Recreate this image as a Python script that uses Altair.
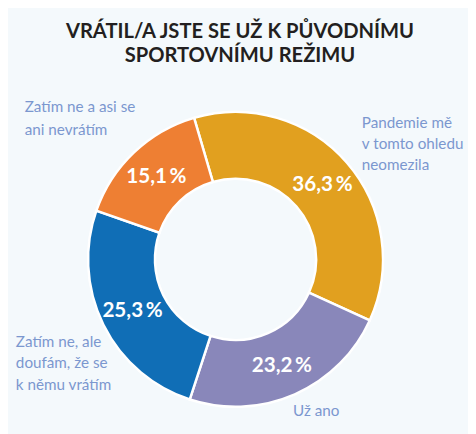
import math
import altair as alt
import pandas as pd

# ---- data ----
categories = [
    "Pandemie mě v tomto ohledu neomezila",
    "Už ano",
    "Zatím ne, ale doufám, že se k němu vrátím",
    "Zatím ne a asi se ani nevrátím",
]
values = [36.3, 23.2, 25.3, 15.1]
value_labels = ["36,3\u2009%", "23,2\u2009%", "25,3\u2009%", "15,1\u2009%"]
colors = ["#E1A01F", "#8987BA", "#106EB6", "#EE7F33"]
label_lines = [
    ["Pandemie mě", "v tomto ohledu", "neomezila"],
    ["Už ano"],
    ["Zatím ne, ale", "doufám, že se", "k němu vrátím"],
    ["Zatím ne a asi se", "ani nevrátím"],
]
title_lines = ["VRÁTIL/A JSTE SE UŽ K PŮVODNÍMU", "SPORTOVNÍMU REŽIMU"]

# ---- layout ----
W, H = 468, 426
CX, CY = 231.5, 252
START = -0.285
FONT = "Lato"
LABEL_COLOR = "#7B97CF"

df = pd.DataFrame({
    "category": categories,
    "value": values,
    "label": value_labels,
    "order": list(range(len(categories))),
})

theta_scale = alt.Scale(range=[START, START + 2 * math.pi])
color_scale = alt.Scale(domain=categories, range=colors)

base = alt.Chart(df).encode(
    theta=alt.Theta("value:Q", stack=True, scale=theta_scale),
    order=alt.Order("order:Q"),
)

arcs = base.mark_arc(
    outerRadius=150, innerRadius=82, stroke="white", strokeWidth=2.5
).encode(
    color=alt.Color("category:N", scale=color_scale, legend=None),
    x=alt.value(CX), y=alt.value(CY),
)

pct = base.mark_text(
    radius=117, font=FONT, fontSize=21, fontWeight="bold", color="white",
    baseline="middle", dy=1,
).encode(
    text="label:N", x=alt.value(CX), y=alt.value(CY),
)

# (x of left edge, y of first line, line height)
label_pos = [(360, 113, 21.5), (290, 406, 22), (8, 336, 22), (17, 97, 23.5)]
layers = [arcs, pct]
for lines, (lx, ly, lh) in zip(label_lines, label_pos):
    t = alt.Chart(pd.DataFrame({"t": ["\n".join(lines)]})).mark_text(
        font=FONT, fontSize=15.5, color=LABEL_COLOR, align="left",
        baseline="middle", lineBreak="\n", lineHeight=lh,
    ).encode(text="t:N", x=alt.value(lx), y=alt.value(ly))
    layers.append(t)

title = alt.Chart(pd.DataFrame({"t": ["\n".join(title_lines)]})).mark_text(
    font=FONT, fontSize=20.5, fontWeight="bold", color="#231F20",
    align="center", baseline="middle", lineBreak="\n", lineHeight=24,
).encode(text="t:N", x=alt.value(236), y=alt.value(21))
layers.append(title)

chart = alt.layer(*layers).properties(
    width=W, height=H, padding=0, autosize="none", background="#F4F9FC"
).configure_view(stroke=None)

chart.save("out.html", embed_options={"renderer": "svg", "actions": False})
